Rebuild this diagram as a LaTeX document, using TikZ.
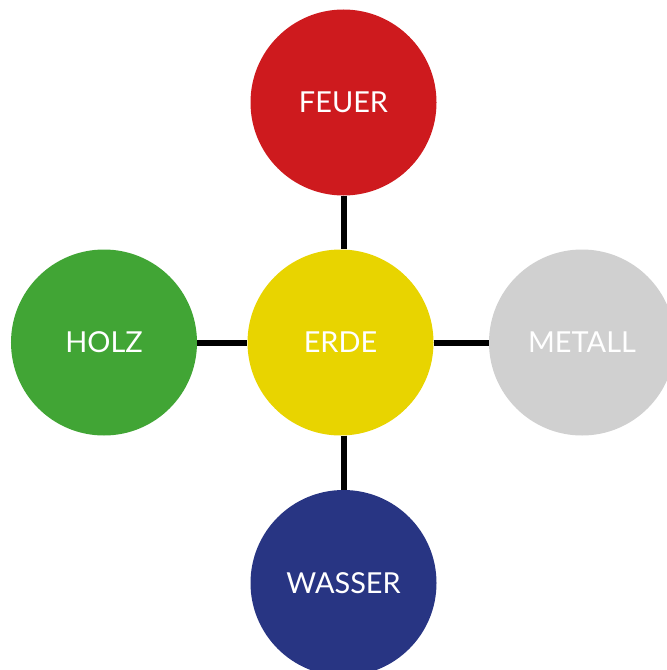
\documentclass[tikz,border=0pt]{standalone}
\usepackage{fontspec}
\setmainfont{Lato}
\definecolor{feuerc}{HTML}{CE1A1E}
\definecolor{erdec}{HTML}{E8D400}
\definecolor{holzc}{HTML}{41A535}
\definecolor{metallc}{HTML}{D0D0D0}
\definecolor{wasserc}{HTML}{283583}
\tikzset{
  elem/.style={circle, minimum size=186bp, inner sep=0pt, text=white, font=\fontsize{29}{33}\selectfont},
  link/.style={line width=6bp, black}
}
\begin{document}
\begin{tikzpicture}[x=1bp, y=-1bp]
\clip (0,0) rectangle (667,670);
\useasboundingbox (0,0) rectangle (667,670);
\node[elem, fill=feuerc] (feuer) at (343.5,102.5) {FEUER};
\node[elem, fill=erdec] (erde) at (340.5,342.5) {ERDE};
\node[elem, fill=holzc] (holz) at (104,342.5) {HOLZ};
\node[elem, fill=metallc] (metall) at (582,342.5) {METALL};
\node[elem, fill=wasserc] (wasser) at (343.5,583) {WASSER};
\draw[link] (feuer.south -| 344,0) -- (erde.north -| 344,0);
\draw[link] (erde.south -| 344,0) -- (wasser.north -| 344,0);
\draw[link] (holz) -- (erde);
\draw[link] (erde) -- (metall);
\end{tikzpicture}
\end{document}
